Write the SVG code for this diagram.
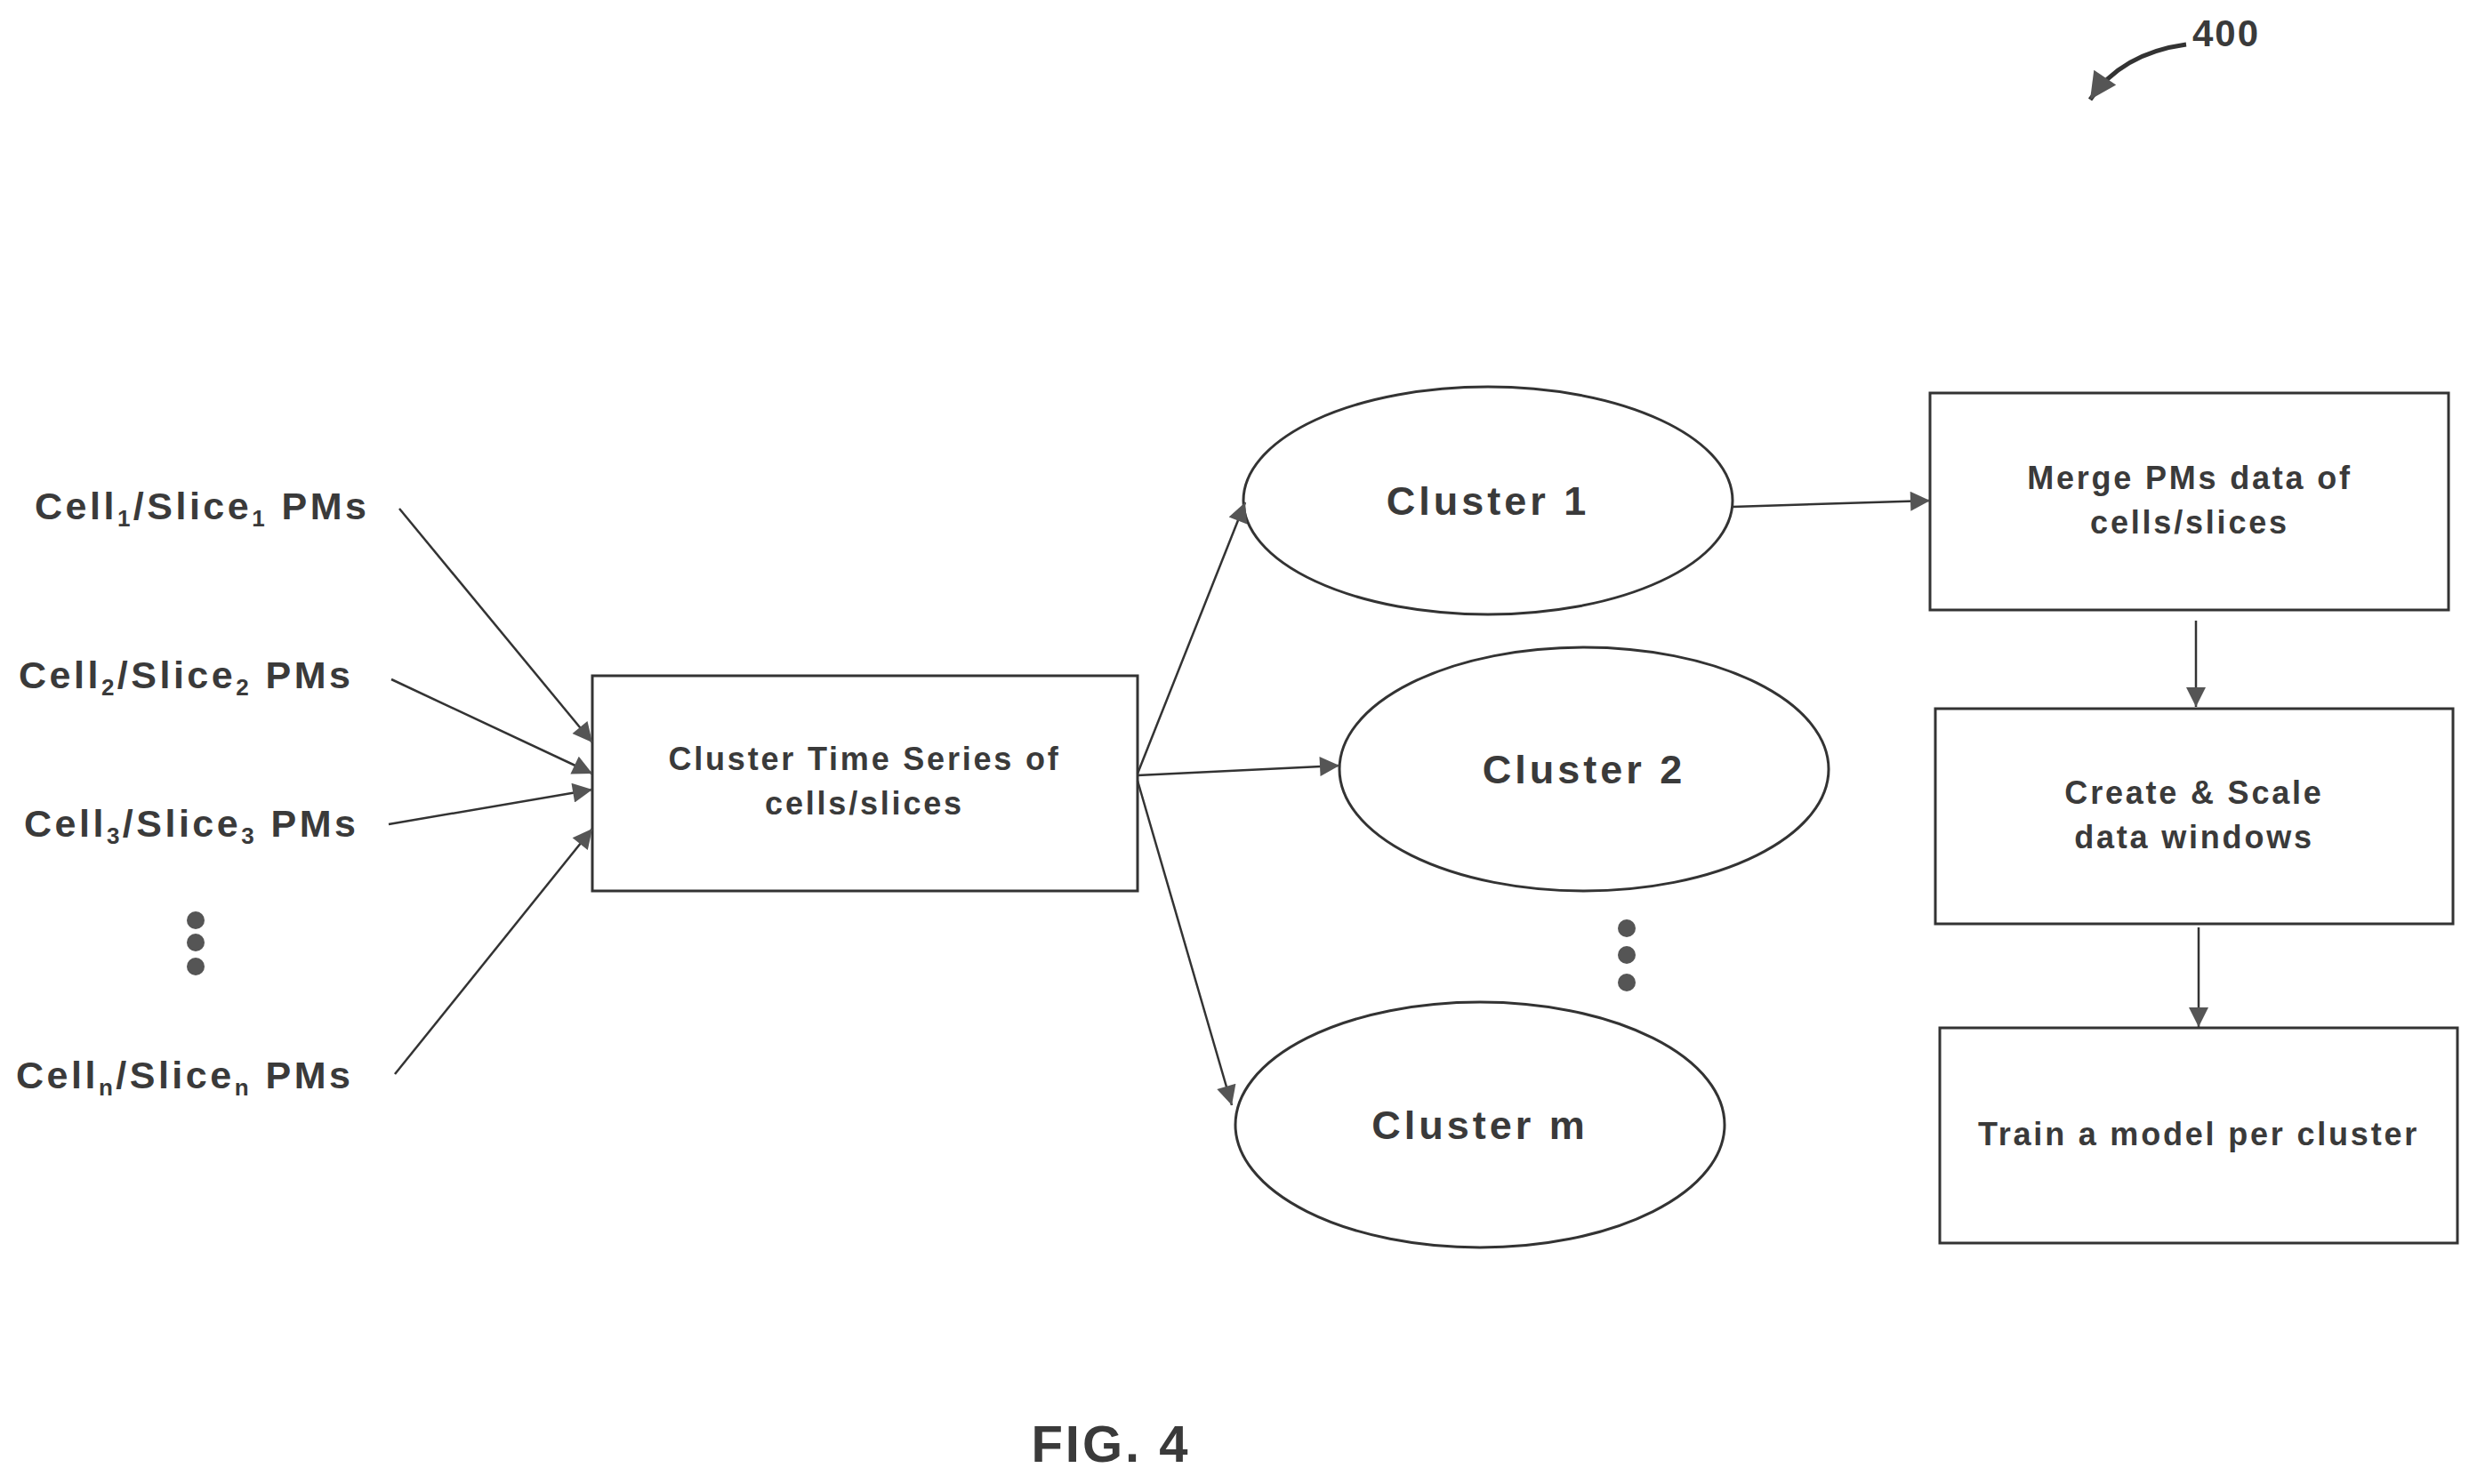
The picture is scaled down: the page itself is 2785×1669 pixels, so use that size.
<svg xmlns="http://www.w3.org/2000/svg" width="2785" height="1669" viewBox="0 0 2785 1669">
<style>
text{font-family:"Liberation Sans",Arial,sans-serif;font-weight:bold;fill:#3a3a3a}
.lbl{font-size:43px;letter-spacing:3.5px}
.cl{font-size:45px;text-anchor:middle;letter-spacing:4px}
.bx{font-size:36px;text-anchor:middle;letter-spacing:2.8px}
.shape{fill:#fff;stroke:#333;stroke-width:3}
.con{stroke:#333;stroke-width:2.5;fill:none;marker-end:url(#ah)}
.dot{fill:#555}
</style>
<defs>
<marker id="ah" viewBox="0 0 10 10" refX="10" refY="5" markerWidth="26" markerHeight="22" markerUnits="userSpaceOnUse" orient="auto">
<path d="M0,0 L10,5 L0,10 z" fill="#555"/>
</marker>
<marker id="ah2" viewBox="0 0 10 10" refX="10" refY="5" markerWidth="34" markerHeight="30" markerUnits="userSpaceOnUse" orient="auto">
<path d="M0,0 L10,5 L0,10 z" fill="#555"/>
</marker>
</defs>
<rect width="2785" height="1669" fill="#fff"/>
<g id="ref400">
<text x="2465" y="52" style="font-size:42px;letter-spacing:2px">400</text>
<path d="M2458,50 Q2385,60 2350,112" stroke="#333" stroke-width="5" fill="none" marker-end="url(#ah2)"/>
</g>
<g id="inputs">
<text class="lbl" x="39" y="584">Cell<tspan font-size="26" dy="8">1</tspan><tspan dy="-8">/Slice</tspan><tspan font-size="26" dy="8">1</tspan><tspan dy="-8"> PMs</tspan></text>
<text class="lbl" x="21" y="774">Cell<tspan font-size="26" dy="8">2</tspan><tspan dy="-8">/Slice</tspan><tspan font-size="26" dy="8">2</tspan><tspan dy="-8"> PMs</tspan></text>
<text class="lbl" x="27" y="941">Cell<tspan font-size="26" dy="8">3</tspan><tspan dy="-8">/Slice</tspan><tspan font-size="26" dy="8">3</tspan><tspan dy="-8"> PMs</tspan></text>
<circle class="dot" cx="220" cy="1035" r="10"/><circle class="dot" cx="220" cy="1060" r="10"/><circle class="dot" cx="220" cy="1087" r="10"/>
<text class="lbl" x="18" y="1224">Cell<tspan font-size="26" dy="8">n</tspan><tspan dy="-8">/Slice</tspan><tspan font-size="26" dy="8">n</tspan><tspan dy="-8"> PMs</tspan></text>
</g>
<g id="box-cluster-ts">
<rect class="shape" x="666" y="760" width="613" height="242"/>
<text class="bx" x="972" y="866">Cluster Time Series of</text>
<text class="bx" x="972" y="916">cells/slices</text>
</g>
<g id="cluster1"><ellipse class="shape" cx="1673" cy="563" rx="275" ry="128"/><text class="cl" x="1673" y="579">Cluster 1</text></g>
<g id="cluster2"><ellipse class="shape" cx="1781" cy="865" rx="275" ry="137"/><text class="cl" x="1781" y="881">Cluster 2</text></g>
<g id="dots2"><circle class="dot" cx="1829" cy="1044" r="10"/><circle class="dot" cx="1829" cy="1074" r="10"/><circle class="dot" cx="1829" cy="1105" r="10"/></g>
<g id="clusterm"><ellipse class="shape" cx="1664" cy="1265" rx="275" ry="138"/><text class="cl" x="1664" y="1281">Cluster m</text></g>
<g id="box-merge">
<rect class="shape" x="2170" y="442" width="583" height="244"/>
<text class="bx" x="2462" y="550">Merge PMs data of</text>
<text class="bx" x="2462" y="600">cells/slices</text>
</g>
<g id="box-create">
<rect class="shape" x="2176" y="797" width="582" height="242"/>
<text class="bx" x="2467" y="904">Create &amp; Scale</text>
<text class="bx" x="2467" y="954">data windows</text>
</g>
<g id="box-train">
<rect class="shape" x="2181" y="1156" width="582" height="242"/>
<text class="bx" x="2472" y="1288">Train a model per cluster</text>
</g>
<g id="connectors">
<line class="con" x1="449" y1="572" x2="666" y2="835"/>
<line class="con" x1="440" y1="764" x2="666" y2="870"/>
<line class="con" x1="437" y1="927" x2="666" y2="888"/>
<line class="con" x1="444" y1="1208" x2="666" y2="932"/>
<line class="con" x1="1279" y1="870" x2="1400" y2="565"/>
<line class="con" x1="1279" y1="872" x2="1506" y2="861"/>
<line class="con" x1="1279" y1="878" x2="1385" y2="1243"/>
<line class="con" x1="1948" y1="570" x2="2170" y2="563"/>
<line class="con" x1="2469" y1="698" x2="2469" y2="795"/>
<line class="con" x1="2472" y1="1043" x2="2472" y2="1155"/>
</g>
<text x="1249" y="1644" style="font-size:58px;text-anchor:middle;letter-spacing:3px">FIG. 4</text>
</svg>
